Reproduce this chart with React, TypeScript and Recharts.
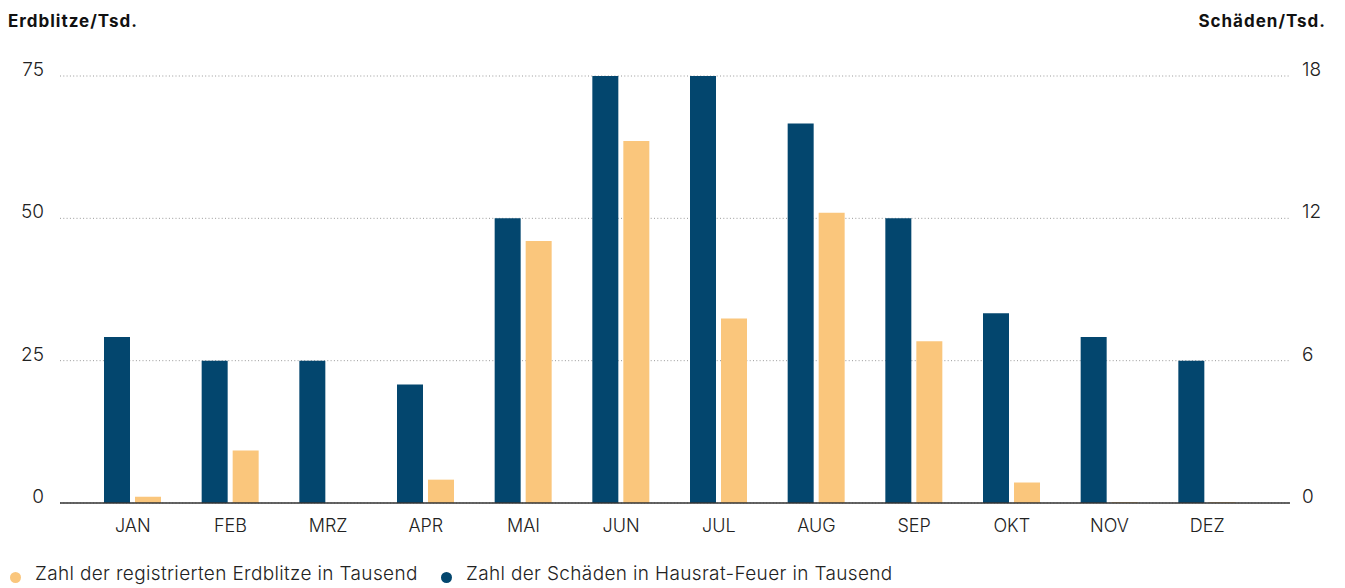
import React from "react";
import { BarChart, Bar, XAxis, YAxis, CartesianGrid } from "recharts";

const months = ["JAN", "FEB", "MRZ", "APR", "MAI", "JUN", "JUL", "AUG", "SEP", "OKT", "NOV", "DEZ"];
const erdblitze = [1.1, 9.2, 0, 4.1, 46, 63.6, 32.4, 51, 28.4, 3.6, 0.15, 0.15];
const schaeden = [7, 6, 6, 5, 12, 18, 18, 16, 12, 8, 7, 6];
const leftTicks = [0, 25, 50, 75];
const rightTicks = [0, 6, 12, 18];
const seriesNames = {
  erdblitze: "Zahl der registrierten Erdblitze in Tausend",
  schaeden: "Zahl der Schäden in Hausrat-Feuer in Tausend",
};

const ORANGE = "#fac67c";
const BLUE = "#03466e";
const FONT = "Inter, 'Noto Sans', sans-serif";

const data = months.map((m, i) => ({ month: m, erdblitze: erdblitze[i], schaeden: schaeden[i] }));

const YTick = (props: any) => {
  const { x, y, payload, textAnchor } = props;
  return (
    <text x={x} y={y} textAnchor={textAnchor} fontSize={19} fontWeight={300} fill="#222" fontFamily={FONT}>
      {payload.value}
    </text>
  );
};

export default function App() {
  return (
    <div style={{ position: "relative", width: 1329, height: 580, fontFamily: FONT, color: "#111" }}>
      <div style={{ position: "absolute", left: 0, top: 5, fontSize: 17, fontWeight: 700, lineHeight: "17px", letterSpacing: 1 }}>
        Erdblitze/Tsd.
      </div>
      <div style={{ position: "absolute", right: 11, top: 5, fontSize: 17, fontWeight: 700, lineHeight: "17px", letterSpacing: 1 }}>
        Schäden/Tsd.
      </div>
      <BarChart
        width={1329}
        height={540}
        data={data}
        margin={{ top: 68, right: 0, left: 0, bottom: 0 }}
        barSize={26}
        barGap={5}
      >
        <CartesianGrid vertical={false} yAxisId="left" stroke="#999" strokeDasharray="1 2.3" />
        <XAxis
          dataKey="month"
          height={45}
          padding={{ left: 24, right: 34 }}
          tickLine={false}
          tickSize={0}
          tickMargin={16}
          axisLine={{ stroke: "#333", strokeWidth: 1.5 }}
          tick={{ fontSize: 18, fontWeight: 300, fill: "#222", fontFamily: FONT }}
          interval={0}
        />
        <YAxis
          yAxisId="left"
          orientation="left"
          width={52}
          domain={[0, 75]}
          ticks={leftTicks}
          axisLine={false}
          tickLine={false}
          tickSize={0}
          tickMargin={16}
          tick={YTick}
        />
        <YAxis
          yAxisId="right"
          orientation="right"
          width={47}
          domain={[0, 18]}
          ticks={rightTicks}
          axisLine={false}
          tickLine={false}
          tickSize={0}
          tickMargin={12}
          tick={YTick}
        />
        <Bar yAxisId="right" dataKey="schaeden" name={seriesNames.schaeden} fill={BLUE} isAnimationActive={false} />
        <Bar yAxisId="left" dataKey="erdblitze" name={seriesNames.erdblitze} fill={ORANGE} isAnimationActive={false} />
      </BarChart>
      <div style={{ position: "absolute", left: 2, top: 564, width: 11, height: 11, borderRadius: "50%", background: ORANGE }} />
      <div style={{ position: "absolute", left: 27, top: 556, fontSize: 19, fontWeight: 300, lineHeight: "19px", color: "#222", letterSpacing: 0.35 }}>
        {seriesNames.erdblitze}
      </div>
      <div style={{ position: "absolute", left: 433, top: 564, width: 11, height: 11, borderRadius: "50%", background: BLUE }} />
      <div style={{ position: "absolute", left: 458, top: 556, fontSize: 19, fontWeight: 300, lineHeight: "19px", color: "#222", letterSpacing: 0.35 }}>
        {seriesNames.schaeden}
      </div>
    </div>
  );
}
